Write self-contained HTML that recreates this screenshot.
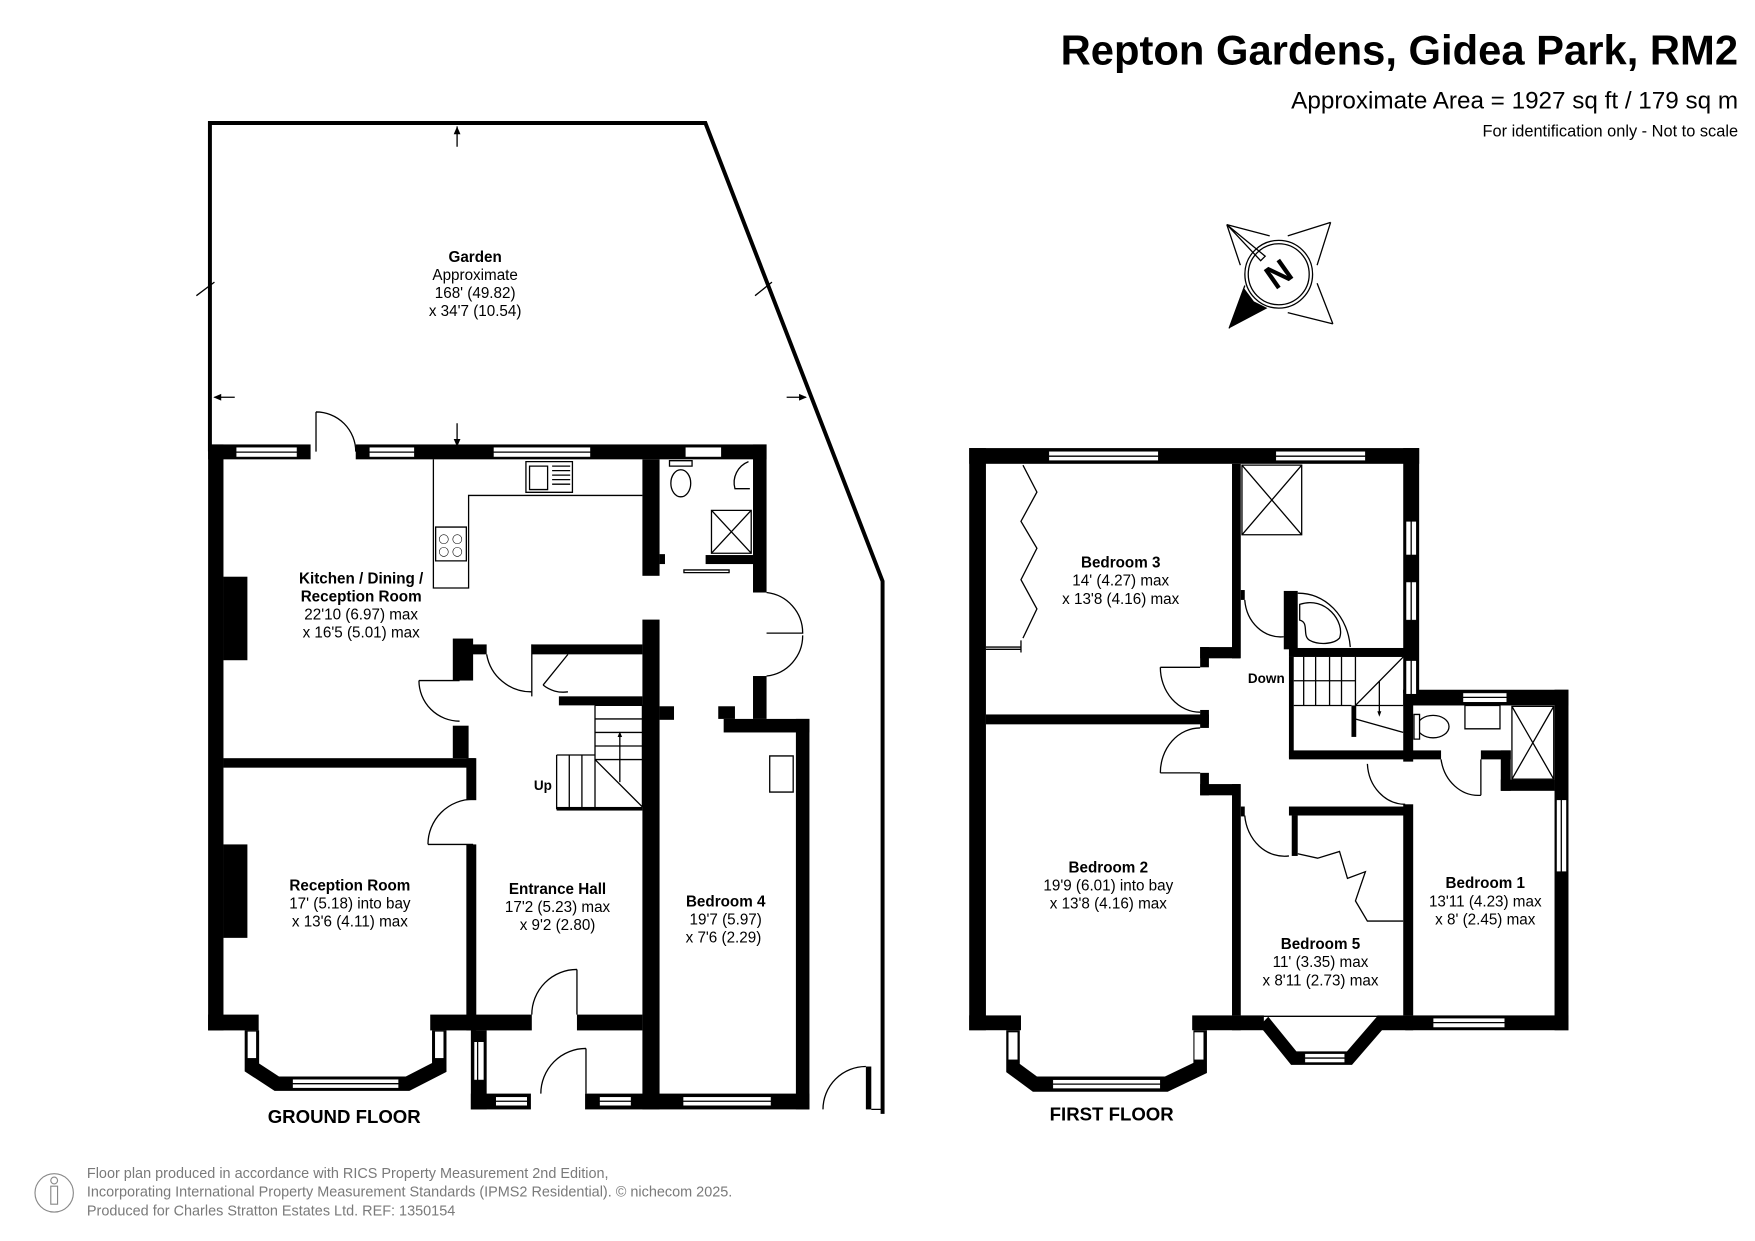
<!DOCTYPE html>
<html><head><meta charset="utf-8"><style>
html,body{margin:0;padding:0;background:#fff}
svg{display:block}
text{font-family:"Liberation Sans",Arial,sans-serif}
.t{stroke:#000;stroke-width:1.3;fill:none;vector-effect:non-scaling-stroke}
.w{fill:#fff;stroke:#000;stroke-width:1.3;vector-effect:non-scaling-stroke}
</style></head><body>
<svg width="1755" height="1241" viewBox="0 0 1555 1099.6" preserveAspectRatio="none" xmlns="http://www.w3.org/2000/svg">
<rect width="1555" height="1100" fill="#fff"/>
<text x="1540" y="57" text-anchor="end" font-size="37" font-weight="bold">Repton Gardens, Gidea Park, RM2</text>
<text x="1540" y="96" text-anchor="end" font-size="21.5">Approximate Area = 1927 sq ft / 179 sq m</text>
<text x="1540" y="121" text-anchor="end" font-size="14.5">For identification only - Not to scale</text>

<g transform="translate(1133,243)">
<polygon points="-46,-44 -12,-16 -16,-12" class="t"/>
<path class="t" d="M-46,-44 L-8,-34 M-46,-44 L-34,-8 M46,-46 L8,-34 M46,-46 L34,-8 M48,44 L8,34 M48,44 L34,8 M-44,48 L-30,10"/>
<polygon points="-44,48 -31,12 -22,24 -10,30" fill="#000"/>
<circle r="30" class="t"/><circle r="27" class="t"/>
<text x="0" y="10" text-anchor="middle" font-size="30" font-weight="bold" transform="rotate(-35)">N</text>
</g>

<path d="M186,400 L186,109 L625,109 L782,515 L782,987" fill="none" stroke="#000" stroke-width="3.5"/>
<path class="t" d="M405,112 V130 M405,375 V395 M190,352 H208 M697,352 H714 M174,262 L190,250 M669,262 L684,250"/>
<path d="M405,112 l-3,7 h6z M405,396 l-3,-7 h6z M189,352 l7,-3 v6z M715,352 l-7,-3 v6z" fill="#000"/>
<g font-size="13.5" text-anchor="middle"><text x="421" y="232" font-weight="bold">Garden</text><text x="421" y="248">Approximate</text><text x="421" y="264">168' (49.82)</text><text x="421" y="280">x 34'7 (10.54)</text></g>

<g transform="translate(177.2,381) scale(0.4)">
<g fill="#000">
<rect x="18" y="32" width="1237" height="33"/>
<rect x="18" y="32" width="34" height="1298"/>
<rect x="52" y="325" width="53" height="185"/><rect x="52" y="918" width="53" height="207"/>
<rect x="18" y="1295" width="112" height="35"/><rect x="510" y="1295" width="100" height="35"/>
<rect x="52" y="727" width="558" height="21"/>
<rect x="590" y="727" width="22" height="93"/><rect x="590" y="918" width="22" height="412"/>
<rect x="560" y="462" width="45" height="93"/><rect x="600" y="475" width="35" height="22"/><rect x="560" y="655" width="35" height="72"/>
<rect x="735" y="475" width="245" height="22"/><rect x="795" y="590" width="185" height="20"/>
<rect x="980" y="65" width="38" height="258"/><rect x="1018" y="275" width="12" height="22"/>
<rect x="980" y="420" width="38" height="1085"/><rect x="1018" y="612" width="32" height="30"/>
<rect x="1160" y="640" width="190" height="30"/><rect x="1148" y="612" width="37" height="28"/>
<rect x="1320" y="640" width="30" height="865"/>
<rect x="1225" y="32" width="30" height="328"/><rect x="1225" y="545" width="30" height="95"/>
<rect x="1120" y="277" width="105" height="20"/>
<rect x="600" y="1295" width="135" height="35"/><rect x="835" y="1295" width="145" height="35"/>
<rect x="600" y="1330" width="35" height="175"/>
<rect x="600" y="1470" width="750" height="35"/>
<rect x="1475" y="1410" width="12" height="95"/>
<rect x="790" y="835" width="190" height="8"/>
</g>
<path d="M115,1330 L115,1412 L170,1448 L460,1448 L530,1412 L530,1330" fill="none" stroke="#000" stroke-width="32"/>
<g class="w">
<rect x="80" y="38" width="135" height="22"/><rect x="375" y="38" width="100" height="22"/><rect x="650" y="38" width="215" height="22"/><rect x="1075" y="38" width="80" height="22"/>
<rect x="205" y="1438" width="235" height="20"/><rect x="105" y="1332" width="20" height="60"/><rect x="520" y="1332" width="20" height="60"/>
<rect x="607" y="1355" width="22" height="85"/>
<rect x="655" y="1477" width="70" height="20"/><rect x="885" y="1477" width="70" height="20"/><rect x="1070" y="1477" width="195" height="20"/>
</g>
<rect x="245" y="30" width="100" height="37" fill="#fff"/><rect x="733" y="1468" width="120" height="39" fill="#fff"/>
<path class="t" d="M80,49 H215 M375,49 H475 M650,49 H865 M205,1448 H440 M615,1355 V1440 M655,1487 H725 M885,1487 H955 M1070,1487 H1265"/>
<path class="t" d="M128,1418 L160,1440 M492,1440 L522,1418"/>
<path class="t" d="M257,-40 V48 M257,-40 A88,88 0 0 1 345,48
M505,918 H605 M505,918 A100,100 0 0 1 605,818
M485,555 H575 M485,555 A90,90 0 0 0 575,645
M635,497 A100,100 0 0 0 735,580
M815,497 L760,565 M760,565 A70,70 0 0 0 815,580 M735,475 V590
M735,1295 A100,100 0 0 1 835,1195 M835,1195 V1295
M755,1470 A100,100 0 0 1 855,1370 M855,1370 V1470
M1380,1505 A95,95 0 0 1 1475,1410
M1255,360 A90,90 0 0 1 1335,450 L1255,450 M1255,545 A90,90 0 0 0 1335,455
M1487,1505 H1512"/>
<path class="t" d="M875,610 H980 V835 M875,610 V835 M790,720 H875 M790,720 V840 M875,640 H980 M875,670 H980 M875,700 H980 M875,730 H980 M818,720 V840 M846,720 V840 M875,730 L980,835 M930,780 V672"/>
<path d="M930,668 l-5,12 h10z" fill="#000"/>
<path class="t" d="M517,65 V350 H595 V145 H980"/>
<rect x="722" y="70" width="103" height="68" class="w"/><path class="t" d="M730,80 H770 V132 H730Z M780,80 H820 M780,90 H820 M780,100 H820 M780,110 H820 M780,120 H820"/>
<rect x="522" y="215" width="68" height="75" class="w"/>
<g class="t"><circle cx="540" cy="242" r="10"/><circle cx="570" cy="242" r="10"/><circle cx="540" cy="270" r="10"/><circle cx="570" cy="270" r="10"/></g>
<ellipse cx="1065" cy="118" rx="22" ry="30" class="w"/><rect x="1040" y="68" width="50" height="12" class="w"/>
<path class="t" d="M1215,70 A50,50 0 0 0 1185,130 L1218,130"/>
<rect x="1133" y="178" width="88" height="95" class="w"/><path class="t" d="M1133,178 L1221,273 M1221,178 L1133,273"/>
<rect x="1072" y="310" width="100" height="6" class="w"/>
<rect x="1262" y="722" width="52" height="80" class="w"/>
</g>
<g font-size="13.5" text-anchor="middle">
<text x="320" y="517" font-weight="bold">Kitchen / Dining /</text><text x="320" y="533" font-weight="bold">Reception Room</text><text x="320" y="549">22'10 (6.97) max</text><text x="320" y="565">x 16'5 (5.01) max</text>
<text x="310" y="789" font-weight="bold">Reception Room</text><text x="310" y="805">17' (5.18) into bay</text><text x="310" y="821">x 13'6 (4.11) max</text>
<text x="494" y="792" font-weight="bold">Entrance Hall</text><text x="494" y="808">17'2 (5.23) max</text><text x="494" y="824">x 9'2 (2.80)</text>
<text x="643" y="803" font-weight="bold">Bedroom 4</text><text x="643" y="819">19'7 (5.97)</text><text x="641" y="835">x 7'6 (2.29)</text>
<text x="481" y="700" font-weight="bold" font-size="12">Up</text>
<text x="305" y="995" font-weight="bold" font-size="16.5">GROUND FLOOR</text>
</g>

<g transform="translate(857,384.3) scale(0.3528,0.398)">
<g fill="#000">
<rect x="5" y="32" width="1130" height="35"/>
<rect x="5" y="32" width="42" height="1296"/>
<rect x="665" y="67" width="22" height="433"/><rect x="585" y="475" width="100" height="25"/><rect x="585" y="475" width="22" height="45"/>
<rect x="47" y="625" width="560" height="22"/><rect x="585" y="615" width="22" height="40"/>
<rect x="585" y="755" width="22" height="50"/><rect x="585" y="780" width="100" height="25"/><rect x="665" y="780" width="22" height="515"/><rect x="687" y="830" width="10" height="22"/><rect x="687" y="348" width="10" height="22"/>
<rect x="5" y="1295" width="130" height="33"/><rect x="565" y="1295" width="122" height="33"/>
<rect x="665" y="1295" width="80" height="33"/><rect x="1030" y="1295" width="90" height="33"/>
<rect x="1095" y="32" width="40" height="545"/>
<rect x="1095" y="570" width="415" height="35"/><rect x="1475" y="570" width="35" height="758"/>
<rect x="1095" y="570" width="25" height="160"/>
<rect x="1100" y="705" width="90" height="20"/><rect x="1290" y="705" width="75" height="20"/><rect x="1340" y="705" width="25" height="90"/><rect x="1340" y="770" width="135" height="25"/>
<rect x="1095" y="825" width="25" height="470"/><rect x="1100" y="1295" width="410" height="33"/>
<rect x="808" y="830" width="290" height="20"/>
<rect x="808" y="477" width="290" height="20"/><rect x="808" y="705" width="300" height="20"/><rect x="808" y="497" width="12" height="225"/>
<rect x="795" y="350" width="35" height="130"/>
<rect x="965" y="605" width="12" height="70"/>
<rect x="815" y="850" width="15" height="90"/>
</g>
<path d="M115,1328 L115,1412 L170,1448 L500,1448 L585,1412 L585,1328" fill="none" stroke="#000" stroke-width="34"/>
<path d="M745,1308 L820,1390 L960,1390 L1040,1308" fill="none" stroke="#000" stroke-width="30"/>
<g class="w">
<rect x="205" y="39" width="275" height="21"/><rect x="775" y="39" width="225" height="21"/>
<rect x="1102" y="195" width="26" height="75"/><rect x="1102" y="330" width="26" height="85"/><rect x="1102" y="505" width="26" height="75"/>
<rect x="1245" y="577" width="110" height="21"/><rect x="1480" y="815" width="25" height="160"/><rect x="1170" y="1301" width="180" height="21"/>
<rect x="215" y="1438" width="270" height="20"/><rect x="103" y="1332" width="24" height="62"/><rect x="570" y="1332" width="24" height="62"/>
<rect x="848" y="1380" width="100" height="20"/>
</g>
<path class="t" d="M205,50 H480 M775,50 H1000 M1115,195 V270 M1115,330 V415 M1115,505 V580 M1245,587 H1355 M1492,815 V975 M1170,1311 H1350 M215,1448 H485 M687,1297 H1100 M760,1318 L815,1375 M975,1375 L1030,1318 M130,1412 L170,1440 M525,1440 L570,1412 M848,1390 H948"/>
<path class="t" d="M485,520 H585 M485,520 A100,100 0 0 0 585,620
M485,755 H585 M485,755 A100,100 0 0 1 585,655
M697,370 A90,90 0 0 0 795,452
M697,850 A100,100 0 0 0 808,940
M1005,735 A95,95 0 0 0 1100,825
M1190,725 A95,95 0 0 0 1290,805 M1290,725 V805
M830,355 A130,130 0 0 1 962,475
M47,480 H135 M135,487 V460 M47,475 H135"/>
<path class="t" d="M140,70 L175,130 L135,195 L175,255 L135,325 L175,390 L140,455"/>
<path class="t" d="M830,935 L880,945 L935,930 L955,990 L1000,975 L975,1040 L1005,1085 H1095"/>
<path class="t" d="M820,605 H965 M845,497 V605 M875,497 V605 M910,497 V605 M940,497 V605 M975,497 V605 M975,605 L1095,497 M975,605 H1095 M975,635 L1095,665 M1035,550 V625 M820,550 H975"/>
<path d="M1035,630 l-5,-12 h10z" fill="#000"/>
<rect x="690" y="70" width="150" height="155" class="w"/><path class="t" d="M690,70 L840,225 M840,70 L690,225"/>
<rect x="1368" y="607" width="105" height="162" class="w"/><path class="t" d="M1368,607 L1473,769 M1473,607 L1368,769"/>
<rect x="1250" y="605" width="88" height="52" class="w"/>
<ellipse cx="1170" cy="652" rx="40" ry="25" class="w"/><rect x="1122" y="625" width="14" height="55" class="w"/>
<path class="t" d="M835,380 C900,360 950,420 935,455 C920,470 880,470 860,460 C840,450 860,420 835,415Z"/>
</g>
<g font-size="13.5" text-anchor="middle">
<text x="993" y="503" font-weight="bold">Bedroom 3</text><text x="993" y="519">14' (4.27) max</text><text x="993" y="535">x 13'8 (4.16) max</text>
<text x="982" y="773" font-weight="bold">Bedroom 2</text><text x="982" y="789">19'9 (6.01) into bay</text><text x="982" y="805">x 13'8 (4.16) max</text>
<text x="1170" y="841" font-weight="bold">Bedroom 5</text><text x="1170" y="857">11' (3.35) max</text><text x="1170" y="873">x 8'11 (2.73) max</text>
<text x="1316" y="787" font-weight="bold">Bedroom 1</text><text x="1316" y="803">13'11 (4.23) max</text><text x="1316" y="819">x 8' (2.45)  max</text>
<text x="1122" y="605" font-weight="bold" font-size="12">Down</text>
<text x="985" y="993" font-weight="bold" font-size="16.5">FIRST FLOOR</text>
</g>

<g fill="#7a7a7a" font-size="12.8">
<text x="77" y="1044">Floor plan produced in accordance with RICS Property Measurement 2nd Edition,</text>
<text x="77" y="1060">Incorporating International Property Measurement Standards (IPMS2 Residential).  © nichecom 2025.</text>
<text x="77" y="1077">Produced for Charles Stratton Estates Ltd.  REF:  1350154</text>
</g>
<g fill="none" stroke="#888" stroke-width="1"><circle cx="48" cy="1057" r="17"/><circle cx="48" cy="1046" r="3"/><path d="M45,1051 h6 v16 h-6z"/></g>
</svg>
</body></html>
